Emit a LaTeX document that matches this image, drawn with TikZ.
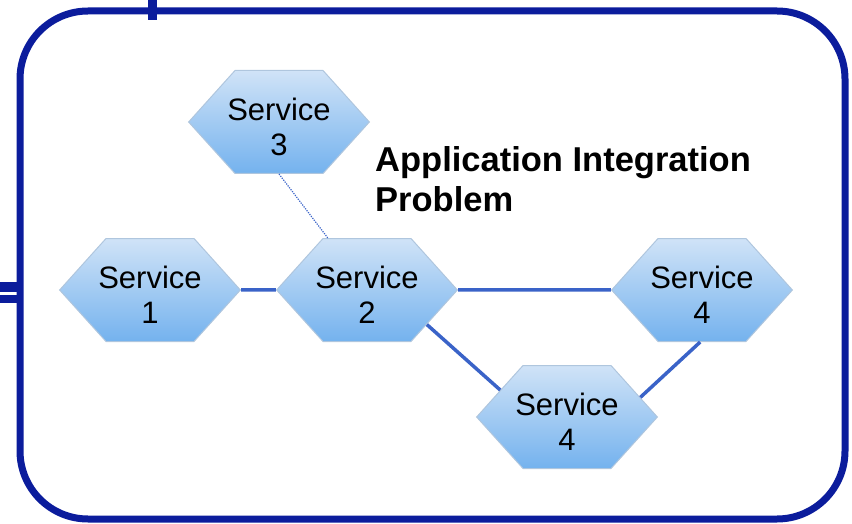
\documentclass[tikz,border=0pt]{standalone}
\usepackage{fontspec}
\setmainfont{Liberation Sans}
\usetikzlibrary{shapes.symbols, positioning}
\definecolor{framecol}{HTML}{0B1C9C}
\definecolor{linkcol}{HTML}{3A63C8}
\definecolor{hextop}{HTML}{D0E3F7}
\definecolor{hexbot}{HTML}{74B2EE}
\definecolor{hexedge}{HTML}{AFC6DE}
\newcommand{\svcname}[1]{\rule{0pt}{32pt}\makebox[88pt]{Service}\\#1}
\tikzset{
  service/.style={shape=signal, signal to=east and west, signal pointer angle=96,
    minimum height=103pt, inner sep=0pt, align=center,
    draw=hexedge, line width=1pt, top color=hextop, bottom color=hexbot,
    font=\fontsize{31}{35}\selectfont},
  link/.style={draw=linkcol, line width=3.5pt},
  weak/.style={draw=linkcol, line width=1.2pt, dash pattern=on 1.2pt off 1.2pt}
}

\begin{document}
\begin{tikzpicture}[x=1pt,y=-1pt,node distance=217pt,on grid]
  \useasboundingbox (0,0) rectangle (852,524);
  \draw[framecol, line width=7pt, rounded corners=68pt] (20,11) rectangle (845,519);
  \fill[framecol] (148,0) rectangle (157,20);
  \fill[framecol] (0,282) rectangle (20,292);
  \fill[framecol] (0,295) rectangle (20,303);

  \node[service] (s1) at (150,290) {\svcname{1}};
  \node[service] (s2) [right=of s1] {\svcname{2}};
  \node[service] (s3) [above left=168pt and 88pt of s2] {\svcname{3}};
  \node[service] (s4a) [right=335pt of s2] {\svcname{4}};
  \node[service] (s4b) [below right=127pt and 200pt of s2] {\svcname{4}};
  \node[anchor=north west, align=left, inner sep=0pt,
    font=\bfseries\fontsize{34.5}{40}\selectfont] (title) at (375,146)
    {Application Integration\\Problem};

  \path[link]
    (s1) edge (s2)
    (s2) edge (s4a)
    (s2.-30) edge (s4b.158)
    (s4b.15) edge (s4a.-92);
  \path[weak] (s3.south) edge (s2.127);
\end{tikzpicture}
\end{document}
